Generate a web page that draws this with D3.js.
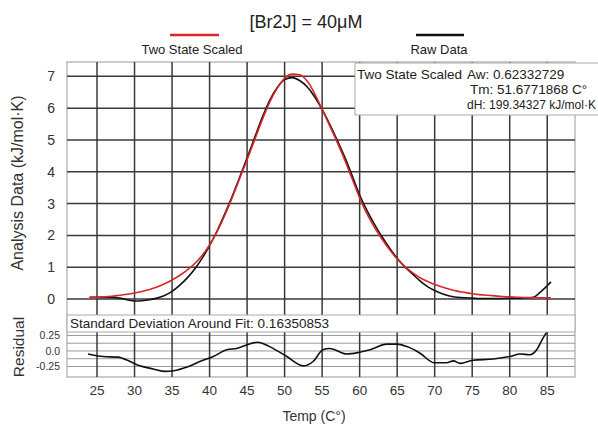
<!DOCTYPE html>
<html>
<head>
<meta charset="utf-8">
<script src="https://cdn.jsdelivr.net/npm/d3@7"></script>
<style>
  body { margin: 0; background: #fff; }
  svg { display: block; font-family: "Liberation Sans", Arial, sans-serif; }
</style>
</head>
<body>
<svg id="chart" width="598" height="427"></svg>
<script>
// Temperatures (C°) shared by the fit and the raw trace
const temps = [24, 25, 26, 27, 28, 29, 30, 31, 32, 33, 34, 35, 36, 37, 38, 39, 40, 41, 42, 43,
  44, 45, 46, 47, 48, 49, 50, 51, 52, 53, 54, 55, 56, 57, 58, 59, 60, 61, 62, 63, 64, 65, 66,
  67, 68, 69, 70, 71, 72, 73, 74, 75, 76, 77, 78, 79, 80, 81, 82, 83, 84, 85, 85.5];

const twoStateScaled = [0.05, 0.06, 0.07, 0.09, 0.12, 0.15, 0.19, 0.24, 0.30, 0.38, 0.48, 0.60,
  0.74, 0.91, 1.11, 1.37, 1.70, 2.12, 2.62, 3.18, 3.78, 4.38, 5.00, 5.62, 6.18, 6.62, 6.94, 7.07,
  7.05, 6.85, 6.46, 5.96, 5.45, 4.93, 4.38, 3.78, 3.18, 2.67, 2.25, 1.88, 1.55, 1.26, 1.03, 0.84,
  0.68, 0.56, 0.46, 0.38, 0.31, 0.25, 0.21, 0.17, 0.14, 0.12, 0.10, 0.08, 0.07, 0.06, 0.05, 0.05,
  0.04, 0.04, 0.04];

const rawData = [0.06, 0.06, 0.05, 0.05, 0.03, -0.02, -0.06, -0.05, -0.02, 0.03, 0.11, 0.24,
  0.43, 0.66, 0.94, 1.28, 1.68, 2.14, 2.66, 3.22, 3.82, 4.44, 5.07, 5.70, 6.24, 6.64, 6.90, 6.96,
  6.87, 6.67, 6.36, 5.96, 5.50, 5.00, 4.47, 3.88, 3.27, 2.77, 2.34, 1.95, 1.60, 1.28, 1.02, 0.80,
  0.58, 0.40, 0.27, 0.17, 0.10, 0.06, 0.04, 0.03, 0.02, 0.02, 0.02, 0.02, 0.03, 0.03, 0.04, 0.05,
  0.20, 0.42, 0.54];

// Residual trace
const residTemps = [23.8, 25.8, 27.8, 29.4, 30.7, 32.5, 34.1, 35.2, 37, 38.7, 40.5, 42.3, 43.6,
  45, 46.4, 48, 50.3, 52.5, 53.8, 55.1, 56, 58.3, 60, 61.4, 63.6, 65, 66.3, 68.1, 69.9, 71.6,
  72.5, 73.4, 75.1, 77.8, 80, 81.4, 82.7, 83.6, 84.4, 85.4];
const residuals = [-0.05, -0.09, -0.10, -0.17, -0.24, -0.29, -0.33, -0.32, -0.26, -0.17, -0.09,
  0.02, 0.04, 0.10, 0.14, 0.07, -0.09, -0.24, -0.17, 0.02, 0.04, -0.05, -0.02, 0.02, 0.11, 0.11,
  0.07, -0.04, -0.19, -0.19, -0.16, -0.20, -0.15, -0.13, -0.09, -0.05, -0.06, 0.02, 0.20, 0.39];

const xTicks = [25, 30, 35, 40, 45, 50, 55, 60, 65, 70, 75, 80, 85];
const yTicks = [0, 1, 2, 3, 4, 5, 6, 7];
const residLabels = [0.25, 0, -0.25];
const residGrid = [-0.25, -0.125, 0, 0.125, 0.25, 0.375, 0.5];

const fitText = ['Aw: 0.62332729', 'Tm: 51.6771868 C°', 'dH: 199.34327 kJ/mol·K'];

const svg = d3.select('#chart');

// Panel geometry
const left = 67, right = 575;
const mainTop = 62, mainBottom = 315;
const resTop = 315, resBottom = 377;

const x = d3.scaleLinear().domain([21, 88.7]).range([left, right]);
const y = d3.scaleLinear().domain([-0.5, 7.45]).range([mainBottom, mainTop]);
const yRes = d3.scaleLinear().domain([-0.42, 0.58]).range([resBottom, resTop]);

// Frames
svg.append('rect')
    .attr('x', left).attr('y', mainTop)
    .attr('width', right - left).attr('height', resBottom - mainTop)
    .attr('fill', '#fff').attr('stroke', '#999').attr('stroke-width', 1);

// Residual horizontal grid (light)
svg.append('g').selectAll('line')
    .data(residGrid)
  .join('line')
    .attr('x1', left).attr('x2', right)
    .attr('y1', d => yRes(d)).attr('y2', d => yRes(d))
    .attr('stroke', '#9a9a9a').attr('stroke-width', 1);

// Main horizontal grid
svg.append('g').selectAll('line')
    .data(yTicks)
  .join('line')
    .attr('x1', left).attr('x2', right)
    .attr('y1', d => y(d)).attr('y2', d => y(d))
    .attr('stroke', '#3a3a3a').attr('stroke-width', 1.5);

// Vertical grid, both panels
svg.append('g').selectAll('line')
    .data(xTicks)
  .join('line')
    .attr('x1', d => x(d)).attr('x2', d => x(d))
    .attr('y1', mainTop).attr('y2', resBottom)
    .attr('stroke', '#3a3a3a').attr('stroke-width', 1.5);

// Curves
const line = d3.line()
    .x((d, i) => x(temps[i]))
    .y(d => y(d))
    .curve(d3.curveMonotoneX);

svg.append('path')
    .attr('d', line(rawData))
    .attr('fill', 'none').attr('stroke', '#111').attr('stroke-width', 1.6);

svg.append('path')
    .attr('d', line(twoStateScaled))
    .attr('fill', 'none').attr('stroke', '#d8262b').attr('stroke-width', 1.6);

const resLine = d3.line()
    .x((d, i) => x(residTemps[i]))
    .y(d => yRes(d))
    .curve(d3.curveMonotoneX);

svg.append('path')
    .attr('d', resLine(residuals))
    .attr('fill', 'none').attr('stroke', '#111').attr('stroke-width', 1.6);

// Standard deviation box over the residual panel
svg.append('rect')
    .attr('x', left).attr('y', 315)
    .attr('width', right - left).attr('height', 17)
    .attr('fill', '#fff').attr('stroke', '#aaa');
svg.append('text')
    .attr('x', left + 3).attr('y', 328)
    .attr('font-size', 13.5).attr('fill', '#222')
    .text('Standard Deviation Around Fit: 0.16350853');

// Fit parameter box (runs off the right edge)
svg.append('rect')
    .attr('x', 355).attr('y', 63)
    .attr('width', 260).attr('height', 52)
    .attr('fill', '#fff').attr('stroke', '#aaa');
svg.append('text')
    .attr('x', 357).attr('y', 79)
    .attr('font-size', 13.5).attr('fill', '#222')
    .text('Two State Scaled');
const fitLines = svg.append('g').selectAll('text')
    .data(fitText)
  .join('text')
    .attr('x', (d, i) => [467, 470, 467][i])
    .attr('y', (d, i) => 79 + i * 15)
    .attr('font-size', 13.5).attr('fill', '#222')
    .text(d => d);

// shrink any line that would run past the window edge
fitLines.each(function() {
  const t = d3.select(this);
  const room = 596 - +t.attr('x');
  const w = this.getComputedTextLength();
  if (w > room) t.attr('font-size', 13.5 * room / w);
});

// Tick labels
svg.append('g').selectAll('text')
    .data(yTicks)
  .join('text')
    .attr('x', 55).attr('y', d => y(d) + 5)
    .attr('text-anchor', 'end')
    .attr('font-size', 14).attr('fill', '#333')
    .text(d => d);

svg.append('g').selectAll('text')
    .data(residLabels)
  .join('text')
    .attr('x', 60).attr('y', d => yRes(d) + 4)
    .attr('text-anchor', 'end')
    .attr('font-size', 10.5).attr('fill', '#333')
    .text(d => d === 0 ? '0.0' : d);

svg.append('g').selectAll('text')
    .data(xTicks)
  .join('text')
    .attr('x', d => x(d)).attr('y', 395)
    .attr('text-anchor', 'middle')
    .attr('font-size', 13.5).attr('fill', '#333')
    .text(d => d);

// Axis titles
svg.append('text')
    .attr('transform', 'translate(23,183) rotate(-90)')
    .attr('text-anchor', 'middle')
    .attr('font-size', 16).attr('fill', '#333')
    .text('Analysis Data (kJ/mol·K)');

svg.append('text')
    .attr('transform', 'translate(24,347) rotate(-90)')
    .attr('text-anchor', 'middle')
    .attr('font-size', 15.5).attr('fill', '#333')
    .text('Residual');

svg.append('text')
    .attr('x', 314).attr('y', 421)
    .attr('text-anchor', 'middle')
    .attr('font-size', 14).attr('fill', '#333')
    .text('Temp (C°)');

// Title
svg.append('text')
    .attr('x', 306).attr('y', 28)
    .attr('text-anchor', 'middle')
    .attr('font-size', 18).attr('fill', '#222')
    .text('[Br2J] = 40μM');

// Legend
const legend = [
  { name: 'Two State Scaled', color: '#d8262b', x0: 170, x1: 219, tx: 192 },
  { name: 'Raw Data', color: '#111', x0: 416, x1: 464, tx: 439 }
];
legend.forEach(d => {
  svg.append('line')
      .attr('x1', d.x0).attr('x2', d.x1).attr('y1', 35).attr('y2', 35)
      .attr('stroke', d.color).attr('stroke-width', 2.5);
  svg.append('text')
      .attr('x', d.tx).attr('y', 54)
      .attr('text-anchor', 'middle')
      .attr('font-size', 13).attr('fill', '#222')
      .text(d.name);
});
</script>
</body>
</html>
